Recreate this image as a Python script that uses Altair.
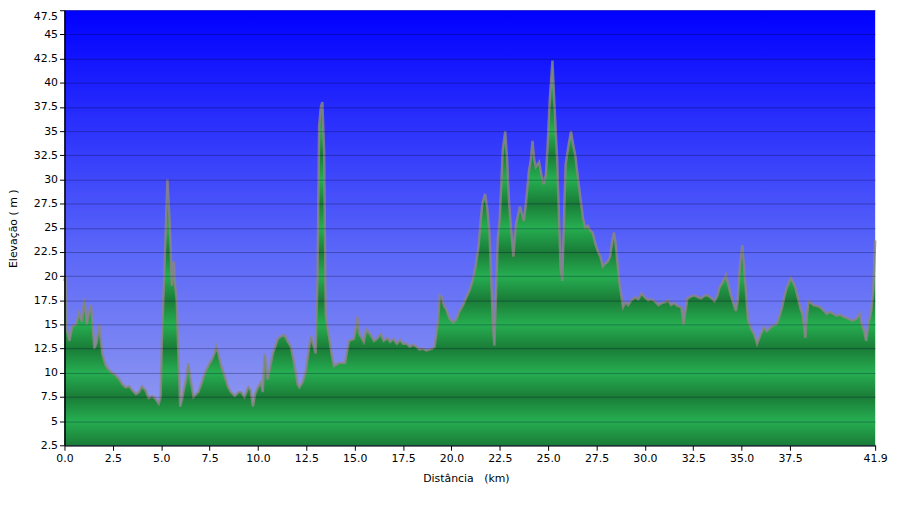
import altair as alt
import pandas as pd

# distance (km) and elevation (m)
km = [0.0, 0.05, 0.12, 0.26, 0.4, 0.6, 0.75, 0.9, 1.03, 1.15, 1.25, 1.37, 1.45, 1.54, 1.65, 1.8, 1.95,
      2.14, 2.3, 2.46, 2.6, 2.8, 3.0, 3.16, 3.35, 3.5, 3.7, 3.85, 4.0, 4.19, 4.35, 4.53, 4.7, 4.87, 4.97,
      5.03, 5.1, 5.18, 5.26, 5.32, 5.4, 5.45, 5.55, 5.65, 5.72, 5.8, 5.9, 5.98, 6.08, 6.15, 6.3, 6.4, 6.5,
      6.67, 6.8, 6.92, 7.1, 7.26, 7.45, 7.6, 7.75, 7.85, 7.95, 8.1, 8.3, 8.46, 8.6, 8.8, 9.0, 9.13, 9.3,
      9.5, 9.62, 9.74, 9.85, 10.0, 10.15, 10.25, 10.34, 10.42, 10.5, 10.62, 10.77, 11.03, 11.2, 11.37,
      11.55, 11.7, 11.85, 11.95, 12.05, 12.14, 12.3, 12.46, 12.6, 12.73, 12.85, 12.98, 13.08, 13.16,
      13.25, 13.33, 13.42, 13.5, 13.6, 13.67, 13.8, 13.93, 14.19, 14.5, 14.7, 14.96, 15.05, 15.13, 15.25,
      15.47, 15.6, 15.8, 16.0, 16.15, 16.35, 16.5, 16.7, 16.83, 17.0, 17.18, 17.35, 17.5, 17.7, 17.85,
      18.0, 18.2, 18.35, 18.5, 18.7, 18.87, 19.0, 19.13, 19.22, 19.3, 19.4, 19.5, 19.6, 19.74, 19.9,
      20.09, 20.25, 20.4, 20.6, 20.77, 20.95, 21.1, 21.25, 21.4, 21.5, 21.6, 21.74, 21.85, 21.96, 22.05,
      22.14, 22.22, 22.3, 22.4, 22.5, 22.65, 22.78, 22.88, 22.98, 23.1, 23.2, 23.33, 23.54, 23.74, 23.85,
      24.0, 24.1, 24.19, 24.28, 24.36, 24.53, 24.65, 24.77, 24.88, 24.96, 25.08, 25.22, 25.33, 25.47,
      25.56, 25.64, 25.73, 25.82, 25.9, 26.05, 26.18, 26.3, 26.4, 26.55, 26.67, 26.8, 26.92, 27.05,
      27.18, 27.3, 27.44, 27.58, 27.7, 27.82, 27.95, 28.08, 28.2, 28.3, 28.4, 28.48, 28.55, 28.7, 28.87,
      29.0, 29.13, 29.3, 29.5, 29.66, 29.83, 30.0, 30.17, 30.33, 30.5, 30.7, 30.86, 31.05, 31.2, 31.35,
      31.5, 31.7, 31.88, 32.0, 32.1, 32.2, 32.4, 32.56, 32.75, 32.9, 33.1, 33.25, 33.45, 33.6, 33.75,
      33.85, 34.0, 34.19, 34.3, 34.44, 34.6, 34.7, 34.8, 34.87, 34.95, 35.03, 35.12, 35.2, 35.27, 35.33,
      35.5, 35.64, 35.8, 35.95, 36.15, 36.3, 36.5, 36.65, 36.8, 36.95, 37.08, 37.2, 37.33, 37.54, 37.65,
      37.78, 37.9, 38.03, 38.15, 38.29, 38.38, 38.46, 38.6, 38.7, 38.9, 39.06, 39.25, 39.4, 39.55, 39.74,
      39.9, 40.1, 40.25, 40.4, 40.6, 40.77, 40.95, 41.1, 41.2, 41.3, 41.44, 41.55, 41.7, 41.8, 41.9]
elev = [19.5, 20.0, 14.5, 13.3, 14.8, 15.0, 16.2, 15.3, 17.7, 15.0, 16.0, 17.0, 15.0, 12.5, 13.0, 15.0, 12.0,
        10.7, 10.3, 10.0, 9.8, 9.4, 8.8, 8.5, 8.6, 8.2, 7.8, 8.0, 8.6, 8.2, 7.4, 7.6, 7.3, 6.8, 7.5,
        13.0, 17.0, 21.5, 26.5, 30.0, 27.0, 25.0, 19.0, 21.5, 19.0, 17.5, 11.0, 6.5, 7.3, 8.0, 9.5, 11.0, 9.5,
        7.5, 7.8, 8.0, 9.0, 10.0, 10.8, 11.3, 12.0, 12.7, 12.0, 10.7, 9.5, 8.5, 8.0, 7.6, 8.0, 8.0, 7.5,
        8.5, 8.2, 6.5, 7.8, 8.5, 9.0, 8.0, 12.0, 11.0, 9.3, 10.5, 12.0, 13.5, 13.8, 13.9,
        13.2, 12.7, 11.2, 10.0, 8.8, 8.5, 9.0, 10.0, 12.0, 13.8, 13.0, 12.0, 20.0, 35.5,
        37.5, 38.0, 33.0, 16.1, 14.5, 13.8, 12.0, 10.7, 11.0, 11.0, 13.3, 13.5, 14.5, 15.8, 14.0,
        13.2, 14.5, 14.0, 13.3, 13.5, 14.0, 13.3, 13.6, 13.2, 13.5, 13.0, 13.4, 13.0, 13.0, 12.7,
        12.9, 12.7, 12.4, 12.5, 12.3, 12.4, 12.5, 12.7, 14.0, 15.2, 18.0, 17.8, 17.0, 16.5, 15.6,
        15.2, 15.5, 16.3, 17.0, 17.8, 18.6, 19.6, 21.0, 23.0, 25.5, 27.5, 28.5, 27.0, 24.7, 20.0,
        15.0, 12.8, 18.0, 24.0, 26.0, 33.0, 35.0, 32.0, 27.5, 24.5, 22.0, 25.3, 27.2, 25.7, 27.5,
        30.8, 32.0, 34.0, 32.0, 31.3, 31.8, 30.5, 29.5, 30.5, 33.0, 38.2, 42.3, 37.5, 31.8,
        26.0, 20.8, 19.5, 26.0, 31.5, 33.5, 35.0, 33.5, 32.5, 30.0, 28.0, 26.0, 25.0, 25.2,
        24.7, 24.5, 23.3, 22.5, 22.0, 21.0, 21.3, 21.5, 22.0, 23.5, 24.5, 23.5, 22.0, 19.0, 16.8,
        17.3, 17.0, 17.5, 17.8, 17.6, 18.2, 17.8, 17.5, 17.6, 17.4, 17.0, 17.2, 17.3, 17.5, 17.0,
        17.2, 16.9, 16.8, 15.0, 16.5, 17.7, 17.9, 18.0, 17.8, 17.7, 18.0, 18.0, 17.7, 17.4, 18.0,
        18.8, 19.3, 20.1, 19.2, 18.0, 17.0, 16.4, 17.5, 20.0, 21.8, 23.2, 21.0, 19.0, 17.0, 15.4,
        14.5, 14.0, 13.0, 13.8, 14.7, 14.3, 14.7, 14.9, 15.0, 15.8, 16.7, 17.8, 18.8, 19.8, 19.4,
        18.8, 17.8, 16.7, 16.0, 13.6, 16.0, 17.4, 17.2, 17.0, 16.9, 16.8, 16.4, 16.1, 16.3, 16.1,
        15.9, 16.0, 15.8, 15.7, 15.5, 15.4, 15.6, 16.1, 15.0, 14.5, 13.3, 15.0, 16.4, 18.5, 23.7]

y_ticks = [2.5, 5, 7.5, 10, 12.5, 15, 17.5, 20, 22.5, 25, 27.5, 30, 32.5, 35, 37.5, 40, 42.5, 45, 47.5]
x_ticks = [0.0, 2.5, 5.0, 7.5, 10.0, 12.5, 15.0, 17.5, 20.0, 22.5, 25.0, 27.5, 30.0, 32.5, 35.0, 37.5, 41.9]

W, H = 818, 439
FONT = "DejaVu Sans"

df = pd.DataFrame({"km": km, "elev": elev})

# sky behind the profile
sky = alt.Gradient(
    gradient="linear", x1=0, x2=0, y1=0, y2=1,
    stops=[alt.GradientStop(color="#0000ff", offset=0),
           alt.GradientStop(color="#5a66f8", offset=0.55),
           alt.GradientStop(color="#9aa3ee", offset=1)],
)

# banded green: dark at 2.5, 7.5, 12.5 ..., light at 5, 10, 15 ...
# gradient offsets are relative to the area's own box (top peak -> 2.5 baseline)
top = max(elev)
stops = [alt.GradientStop(color="#1d8a3d", offset=0)]
k = 16
while k >= 1:
    v = 2.5 * k
    if v < top:
        stops.append(alt.GradientStop(
            color="#1a7c37" if k % 2 else "#26ae51",
            offset=round((top - v) / (top - 2.5), 4)))
    k -= 1
green = alt.Gradient(gradient="linear", x1=0, x2=0, y1=0, y2=1, stops=stops)

xscale = alt.Scale(domain=[0, 41.9], nice=False, zero=False)
yscale = alt.Scale(domain=[2.5, 47.5], nice=False, zero=False)

bg = alt.Chart(pd.DataFrame({"a": [0]})).mark_rect(fill=sky).encode(
    x=alt.value(0), x2=alt.value(W), y=alt.value(0), y2=alt.value(H)
)

area = alt.Chart(df).mark_area(fill=green, interpolate="linear").encode(
    x=alt.X("km:Q", scale=xscale,
            axis=alt.Axis(values=x_ticks, format=".1f", title="Distância\u00a0\u00a0\u00a0(km)",
                          grid=False, labelFlush=False, labelOverlap=False,
                          titleX=405, titleY=34, titleBaseline="middle")),
    y=alt.Y("elev:Q", scale=yscale,
            axis=alt.Axis(values=y_ticks, tickCount=19,
                          labelExpr="datum.value % 1 == 0 ? format(datum.value, 'd') : format(datum.value, '.1f')",
                          labelBaseline={"condition": {"test": "datum.value >= 47.5", "value": "top"},
                                         "value": "middle"},
                          title="Elevação ( m )",
                          grid=True, gridColor="#000033", gridOpacity=0.3,
                          labelFlush=False, labelOverlap=False,
                          titleX=-51, titleY=220, titleAngle=-90,
                          titleAlign="center", titleBaseline="middle", zindex=1)),
    y2=alt.datum(2.5),
)

edge = alt.Chart(df).mark_line(color="#8f8684", strokeWidth=2.5, opacity=0.8).encode(
    x="km:Q", y="elev:Q"
)

chart = alt.layer(bg, area, edge).properties(
    width=W, height=H,
    autosize=alt.AutoSizeParams(type="none"),
    padding={"left": 57, "top": 0, "right": 17, "bottom": 58},
).configure_axis(
    labelFont=FONT, labelFontSize=11, labelColor="#000000",
    titleFont=FONT, titleFontSize=11, titleFontWeight="normal", titleColor="#000000",
    domainColor="#000000", domainWidth=1.5, tickColor="#000000", tickSize=5,
    labelPadding=2,
).configure_view(stroke=None)

chart.save("out.html", embed_options={"renderer": "svg", "actions": False})
